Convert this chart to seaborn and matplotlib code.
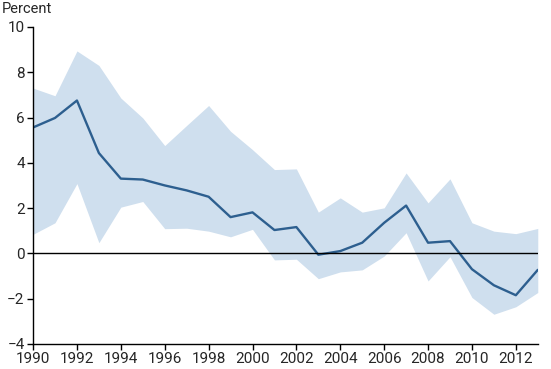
import matplotlib.pyplot as plt
import pandas as pd
import seaborn as sns
import numpy as np

sns.set_theme(style="ticks")
plt.rcParams['font.family'] = ['Roboto', 'DejaVu Sans']

# data
years = list(range(1990, 2014))
central = [5.56, 5.98, 6.75, 4.43, 3.30, 3.26, 3.00, 2.78, 2.50, 1.60, 1.81, 1.03,
           1.16, -0.06, 0.10, 0.47, 1.35, 2.11, 0.47, 0.54, -0.70, -1.41, -1.85, -0.73]
upper = [7.30, 6.96, 8.94, 8.30, 6.86, 5.98, 4.76, 5.65, 6.53, 5.39, 4.58, 3.70,
         3.73, 1.82, 2.45, 1.82, 2.01, 3.55, 2.23, 3.29, 1.35, 0.98, 0.87, 1.10]
lower = [0.84, 1.35, 3.08, 0.47, 2.04, 2.29, 1.09, 1.11, 0.98, 0.73, 1.06, -0.29,
         -0.26, -1.12, -0.82, -0.73, -0.12, 0.91, -1.22, -0.15, -1.95, -2.69, -2.36, -1.73]

df = pd.DataFrame({'year': years, 'central': central, 'upper': upper, 'lower': lower})

fig = plt.figure(figsize=(5.51, 3.69), dpi=100)
ax = fig.add_axes([0.060, 0.068, 0.916, 0.859])

ax.fill_between(df['year'], df['lower'], df['upper'], color='#cfdfee', linewidth=0)
sns.lineplot(data=df, x='year', y='central', color='#2d5f8f', linewidth=1.7, ax=ax)
ax.axhline(0, color='black', linewidth=1)

ax.set_xlim(1990, 2013)
ax.set_ylim(-4, 10)
ax.set_xticks(np.arange(1990, 2013, 2))
ax.set_yticks(np.arange(-4, 11, 2))
ax.set_xlabel('')
ax.set_ylabel('')
ax.tick_params(axis='both', labelsize=11, length=4, width=1, color='black', pad=2)
for s in ['top', 'right']:
    ax.spines[s].set_visible(False)
for s in ['left', 'bottom']:
    ax.spines[s].set_color('black')
    ax.spines[s].set_linewidth(1)

fig.text(0.004, 0.995, 'Percent', ha='left', va='top', fontsize=10.5)

fig.savefig('out.png', dpi=100)
